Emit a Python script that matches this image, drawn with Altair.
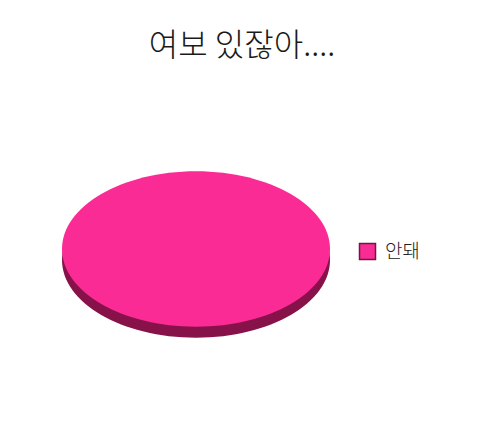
import altair as alt
import pandas as pd

# data
categories = ["안돼"]
values = [100]

face_colors = ["#fb2b95"]
rim_color = "#861249"
title_text = "여보 있잖아...."

df = pd.DataFrame({"category": categories, "value": values})

# unit ellipse (flattened disc), scaled by the point size
ELLIPSE = "M-1,0A1,0.58,0,1,1,1,0A1,0.58,0,1,1,-1,0Z"
DISC = 268 ** 2

base = alt.Chart(df)

rim = base.mark_point(
    shape=ELLIPSE, filled=True, size=DISC, opacity=1, yOffset=11, color=rim_color
).encode(detail="value:Q")

face = base.mark_point(
    shape=ELLIPSE, filled=True, size=DISC, opacity=1
).encode(
    color=alt.Color(
        "category:N",
        scale=alt.Scale(domain=categories, range=face_colors),
        legend=alt.Legend(
            title=None,
            orient="none",
            legendX=296,
            legendY=83,
            padding=0,
            symbolType="square",
            symbolSize=256,
            symbolStrokeColor="#6e1842",
            symbolStrokeWidth=1.5,
            labelFont="Noto Sans CJK KR",
            labelFontSize=19,
            labelFontWeight=300,
            labelColor="#222222",
            labelOffset=8,
        ),
    ),
    detail="value:Q",
)

chart = (
    alt.layer(rim, face)
    .properties(
        width=268,
        height=180,
        padding={"left": 54, "top": 151, "right": 142, "bottom": 99},
        autosize=alt.AutoSizeParams(type="none"),
        title=alt.TitleParams(
            title_text,
            font="Noto Sans CJK KR",
            fontSize=32,
            fontWeight=300,
            color="#1a1a1a",
            offset=96,
            anchor="middle",
            dx=46,
        ),
        background="white",
    )
    .configure_view(stroke=None)
)

chart.save("out.html", embed_options={"renderer": "svg", "actions": False})
